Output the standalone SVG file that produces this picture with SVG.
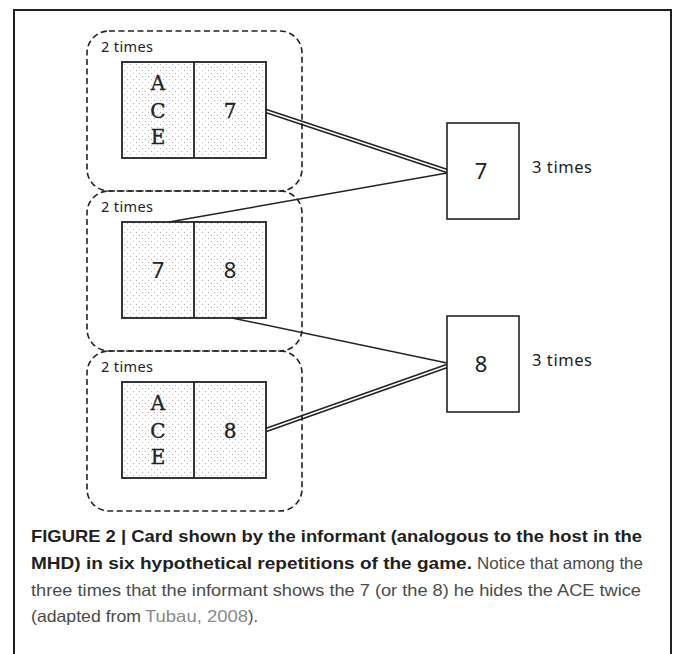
<svg xmlns="http://www.w3.org/2000/svg" width="673" height="654" viewBox="0 0 673 654">
  <defs>
    <!-- light stipple used inside the card faces -->
    <pattern id="stipple" width="6" height="6" patternUnits="userSpaceOnUse">
      <rect width="6" height="6" fill="#ffffff"/>
      <circle cx="1.5" cy="1.5" r="0.6" fill="#a8a8a8"/>
      <circle cx="4.5" cy="4.5" r="0.6" fill="#a8a8a8"/>
    </pattern>
    <style>
      .frame { fill: none; stroke: #231f20; stroke-width: 2; }
      .group { fill: none; stroke: #222; stroke-width: 1.6; stroke-dasharray: 6 3.5; }
      .card { fill: url(#stipple); stroke: #222; stroke-width: 1.8; }
      .divider { stroke: #222; stroke-width: 1.8; }
      .shown { fill: #ffffff; stroke: #222; stroke-width: 1.6; }
      .times { font-family: "Noto Sans", "Open Sans", sans-serif; fill: #222; }
      .serif { font-family: "DejaVu Serif", "Liberation Serif", serif; font-size: 20px; fill: #222; stroke: #222; stroke-width: 0.35; text-anchor: middle; }
      .num { font-family: "Noto Sans", "Open Sans", sans-serif; font-size: 22px; fill: #222; text-anchor: middle; }
      .single { fill: none; stroke: #222; stroke-width: 1.5; }
      .double-outer { fill: none; stroke: #222; stroke-width: 4.6; }
      .double-inner { fill: none; stroke: #ffffff; stroke-width: 1.5; }
      .cap { font-family: "Liberation Sans", Arial, sans-serif; font-size: 16.5px; }
      .cap-bold { font-weight: bold; fill: #231f20; }
      .cap-text { fill: #4a4a4a; }
      .cap-ref { fill: #8a8a8a; }
    </style>
  </defs>

  <rect width="673" height="654" fill="#ffffff"/>
  <path class="frame" d="M14,654 V10 H671 V654"/>

  <!-- connectors -->
  <g id="connectors">
    <path class="double-outer" d="M266,111 L447,171"/>
    <path class="double-inner" d="M266,111 L447,171"/>
    <path class="single" d="M169,222 L447,173"/>
    <path class="single" d="M232,318 L447,363"/>
    <path class="double-outer" d="M266,430 L447,366"/>
    <path class="double-inner" d="M266,430 L447,366"/>
  </g>

  <!-- repetition 1: hidden ACE, shown 7 -->
  <g id="rep1">
    <rect class="group" x="87" y="31" width="215" height="160" rx="22" ry="22"/>
    <text class="times" x="101" y="52" font-size="14.5" textLength="52">2 times</text>
    <rect class="card" x="122" y="62" width="144" height="96"/>
    <line class="divider" x1="194" y1="62" x2="194" y2="158"/>
    <text class="serif" x="158" y="90">A</text>
    <text class="serif" x="158" y="118">C</text>
    <text class="serif" x="158" y="144">E</text>
    <text class="serif" x="230" y="118" font-size="18">7</text>
  </g>

  <!-- repetition 2: 7 and 8 -->
  <g id="rep2">
    <rect class="group" x="87" y="191" width="215" height="160" rx="22" ry="22"/>
    <text class="times" x="101" y="212" font-size="14.5" textLength="52">2 times</text>
    <rect class="card" x="122" y="222" width="144" height="96"/>
    <line class="divider" x1="194" y1="222" x2="194" y2="318"/>
    <text class="num" x="158" y="278">7</text>
    <text class="num" x="230" y="278">8</text>
  </g>

  <!-- repetition 3: hidden ACE, shown 8 -->
  <g id="rep3">
    <rect class="group" x="87" y="351" width="215" height="160" rx="22" ry="22"/>
    <text class="times" x="101" y="372" font-size="14.5" textLength="52">2 times</text>
    <rect class="card" x="122" y="382" width="144" height="96"/>
    <line class="divider" x1="194" y1="382" x2="194" y2="478"/>
    <text class="serif" x="158" y="410">A</text>
    <text class="serif" x="158" y="438">C</text>
    <text class="serif" x="158" y="464">E</text>
    <text class="serif" x="230" y="438" font-size="18">8</text>
  </g>

  <!-- card shown: 7 -->
  <g id="shown7">
    <rect class="shown" x="447" y="123" width="72" height="96"/>
    <text class="num" x="481" y="179">7</text>
    <text class="times" x="532" y="173" font-size="16.5" textLength="60">3 times</text>
  </g>

  <!-- card shown: 8 -->
  <g id="shown8">
    <rect class="shown" x="447" y="316" width="72" height="96"/>
    <text class="num" x="481" y="372">8</text>
    <text class="times" x="532" y="366" font-size="16.5" textLength="60">3 times</text>
  </g>

  <!-- caption -->
  <g id="caption" class="cap">
    <text class="cap-bold" x="31" y="542" textLength="611" lengthAdjust="spacingAndGlyphs">FIGURE 2 | Card shown by the informant (analogous to the host in the</text>
    <text class="cap-bold" x="31" y="569" textLength="441" lengthAdjust="spacingAndGlyphs">MHD) in six hypothetical repetitions of the game.</text>
    <text class="cap-text" x="477" y="569" textLength="166" lengthAdjust="spacingAndGlyphs">Notice that among the</text>
    <text class="cap-text" x="31" y="596" textLength="610" lengthAdjust="spacingAndGlyphs">three times that the informant shows the 7 (or the 8) he hides the ACE twice</text>
    <text class="cap-text" x="31" y="622" textLength="110" lengthAdjust="spacingAndGlyphs">(adapted from</text>
    <text class="cap-ref" x="145" y="622" textLength="103" lengthAdjust="spacingAndGlyphs">Tubau, 2008</text>
    <text class="cap-text" x="248" y="622" textLength="10" lengthAdjust="spacingAndGlyphs">).</text>
  </g>
</svg>
